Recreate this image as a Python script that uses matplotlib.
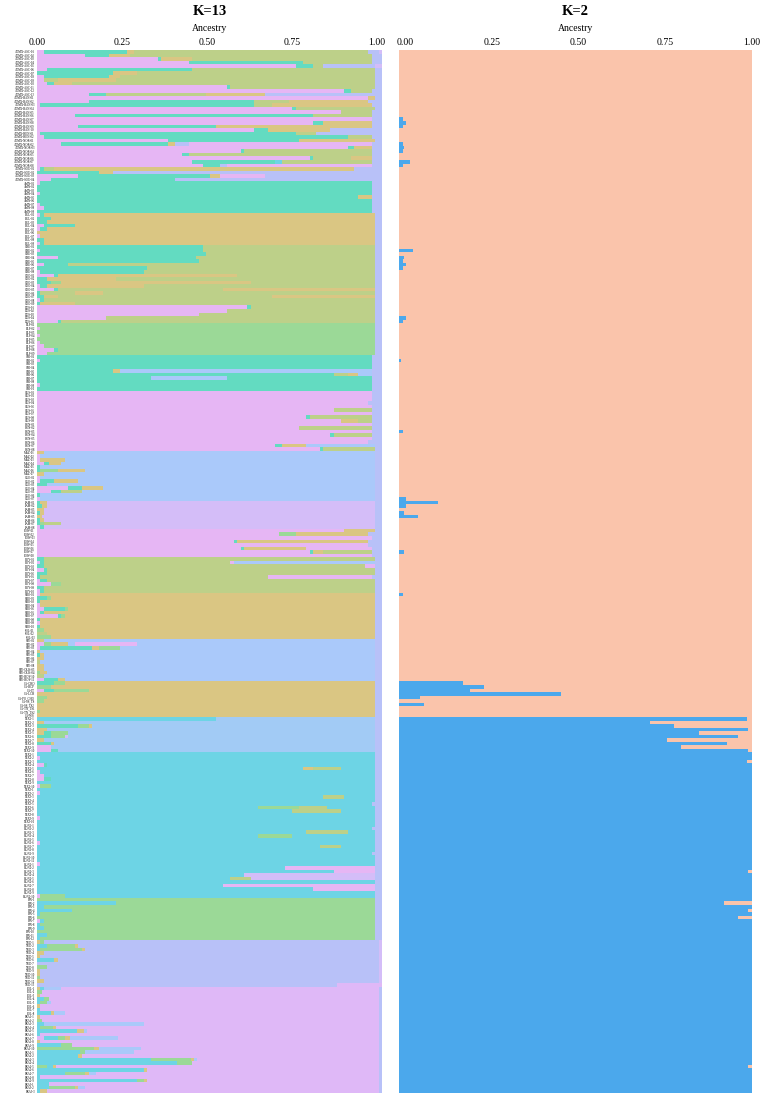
import matplotlib.pyplot as plt
from matplotlib.transforms import ScaledTranslation

# cluster colours (K=13 panel)
COLORS = {
    'p': '#E6B6F4',  # pink
    't': '#63DBC1',  # turquoise
    'o': '#BDD089',  # olive
    'n': '#DAC683',  # tan
    'g': '#9BD997',  # green
    'c': '#6DD4E5',  # cyan
    's': '#AAC9FA',  # sky blue
    'b': '#A2CBF5',  # light blue
    'w': '#B8C1F8',  # periwinkle
    'l': '#D4BDF8',  # lavender
    'v': '#DFB8F7',  # violet
}
K2_BLUE, K2_SALMON = '#4BA8EC', '#FAC4AB'

# sample labels: (prefix, count, zero padding)
GROUPS = [
    ("ADMX-ASC-", 13, 2), ("ADMX-BAN-", 10, 2), ("ADMX-HEN-", 2, 2),
    ("ADMX-NOR-", 8, 2), ("ADMX-SOU-", 4, 2), ("AMN-", 9, 2), ("BUL-", 9, 2),
    ("CHE-", 8, 2), ("COO-", 9, 2), ("DOS-", 5, 2), ("ELF-", 9, 2),
    ("GBI-", 10, 2), ("GUS-", 9, 2), ("HEN-", 8, 2), ("MAZ-", 7, 2),
    ("OUE-", 7, 2), ("PAM-", 8, 2), ("POW-", 8, 2), ("ROY-", 10, 2),
    ("SHO-", 10, 2), ("SOL-", 3, 2), ("SPE-", 8, 2),
]
EXTRA_LABELS = ["SPE-OLK-03", "SPE-OLK-04", "SPE-ROY-10", "SPE-ROY-11",
                "CA-CHO", "CA-RCP", "CA-IT", "CA-LCH", "CA-PO_CHO", "CA-SS_TS",
                "CA-SS_TS2", "CA-TN_TS1", "CA-TN_TS2", "CA-WS"]
GROUPS2 = [("TEX1-", 10, 1), ("TEX2-", 10, 1), ("TEX3-", 10, 1), ("HUN1-", 11, 1),
           ("HUN2-", 10, 1), ("FIN-", 12, 1), ("NED-", 13, 1), ("POL-", 8, 1),
           ("FRA1-", 10, 1), ("FRA2-", 9, 1), ("FRA3-", 3, 1)]

# K=13 ancestry, each sample as cluster+fraction segments, left to right
ADMX = [
    "p.02 t.24 n.02 o.68 w.03 l.01", "p.14 t.07 n.06 o.70 w.03", "p.35 t.01 n.09 o.52 w.03",
    "p.44 t.33 o.20 w.03", "p.75 t.05 o.03 w.15 l.02", "p.03 t.42 o.53 w.02",
    "t.22 n.07 o.69 w.02", "p.02 t.19 n.03 o.74 w.02", "p.02 o.04 n.17 o.75 w.02",
    "p.03 t.02 n.05 o.88 w.02", "p.55 t.01 o.42 w.02", "p.89 t.02 o.06 w.03",
    "p.15 t.05 o.29 n.17 w.34", "p.96 n.02 w.02", "p.15 t.48 o.10 n.23 w.04",
    "p.01 t.62 o.05 n.29 w.03", "p.74 t.01 o.23 w.02", "p.88 o.09 w.03",
    "p.11 t.69 o.17 w.03", "p.97 w.03", "p.80 t.03 n.14 w.03",
    "p.12 t.40 n.45 w.03", "p.63 t.04 n.18 w.15", "p.01 t.74 o.06 w.19",
    "p.02 t.88 o.07 w.03", "p.38 t.38 n.22 w.02", "p.07 t.31 n.02 w.04 p.53 w.03",
    "p.90 t.02 n.05 w.03", "p.59 t.01 o.37 w.03", "p.42 t.02 o.53 w.03",
    "p.79 t.01 o.11 n.06 w.03", "p.45 t.24 c.02 o.26 w.03", "p.48 t.05 w.02 p.42 w.03",
    "p.01 t.01 o.03 n.87 w.08", "t.18 n.04 w.78", "p.12 t.38 n.03 p.13 w.34",
    "p.04 t.36 w.60",
]
AMN = ["p.01 t.96 w.03", "t.97 w.03", "t.97 w.03", "p.01 t.96 w.03", "t.93 n.04 w.03",
       "t.97 w.03", "p.01 t.96 w.03", "p.02 t.95 w.03", "t.97 w.03"]
BUL = ["p.01 t.01 n.96 w.02", "t.04 n.94 w.02", "t.03 n.95 w.02", "p.02 t.09 n.87 w.02",
       "p.01 t.02 n.95 w.02", "n.98 w.02", "p.01 n.97 w.02", "t.02 n.96 w.02",
       "p.01 t.01 n.96 w.02"]
CHE = ["t.48 o.50 w.02", "p.01 t.47 o.50 w.02", "t.49 o.49 w.02", "p.06 t.40 o.52 w.02",
       "t.47 o.51 w.02", "p.02 t.07 o.89 w.02", "t.32 o.66 w.02", "p.01 t.30 o.67 w.02"]
COO = ["p.05 t.01 n.52 o.40 w.02", "t.03 n.20 o.75 w.02", "t.04 g.03 n.55 o.36 w.02",
       "p.01 t.02 n.28 o.67 w.02", "p.05 t.01 o.48 n.44 w.02", "t.01 o.10 n.08 o.79 w.02",
       "t.02 n.04 o.62 n.30 w.02", "p.01 t.01 o.96 w.02", "t.01 n.10 o.87 w.02"]
DOS = ["p.61 t.01 o.36 w.02", "p.55 o.43 w.02", "p.47 o.51 w.02", "p.20 o.78 w.02",
       "p.06 t.01 o.91 w.02"]
ELF = ["g.98 w.02", "p.01 g.97 w.02", "g.98 w.02", "p.01 g.97 w.02", "g.98 w.02",
       "p.01 g.97 w.02", "p.02 g.96 w.02", "p.05 t.01 g.92 w.02", "p.03 g.95 w.02"]
GBI = ["t.97 w.03", "p.01 t.96 w.03", "t.97 w.03", "t.97 w.03", "t.22 n.02 s.73 w.03",
       "t.86 o.04 n.03 s.04 w.03", "t.33 s.22 t.42 w.03", "t.97 w.03", "p.01 t.96 w.03",
       "t.97 w.03"]
GUS = ["p.97 w.03", "p.97 w.03", "p.97 w.03", "p.96 w.04", "p.97 w.03", "p.86 o.11 w.03",
       "p.97 w.03", "p.78 t.01 o.18 w.03", "p.88 n.05 o.04 w.03"]
HEN = ["p.97 w.03", "p.76 o.21 w.03", "p.97 w.03", "p.85 t.01 o.11 w.03", "p.97 w.03",
       "p.96 w.04", "p.69 t.02 n.07 s.20 w.02", "p.82 t.01 o.15 w.02"]
MAZ = ["n.02 s.96 w.02", "p.01 s.97 w.02", "p.01 n.07 s.90 w.02", "p.02 t.015 n.035 s.91 w.02",
       "t.01 s.97 w.02", "t.01 g.05 n.08 s.84 w.02", "n.02 s.96 w.02"]
OUE = ["p.01 s.97 w.02", "p.01 t.04 n.07 s.86 w.02", "t.03 s.95 w.02",
       "p.09 t.04 n.06 s.79 w.02", "p.04 t.03 o.06 s.85 w.02", "t.01 s.97 w.02",
       "p.01 s.97 w.02"]
PAM = ["t.01 n.02 l.95 w.02", "t.015 n.015 l.95 w.02", "n.02 l.96 w.02", "t.01 n.01 l.96 w.02",
       "n.015 l.965 w.02", "t.01 n.01 l.96 w.02", "t.01 g.01 o.05 l.91 w.02",
       "p.01 t.01 l.96 w.02"]
POW = ["p.89 n.09 w.02", "p.70 g.05 n.21 w.04", "p.97 w.03", "p.57 t.01 n.38 w.04",
       "p.96 w.04", "p.59 t.01 n.18 p.19 w.03", "p.79 t.01 n.03 o.14 w.03", "p.97 w.03"]
ROY = ["t.02 o.96 w.02", "p.01 t.01 o.54 p.01 s.41 w.02", "t.02 o.93 p.03 w.02",
       "p.02 t.01 o.95 w.02", "t.03 o.95 w.02", "t.01 o.66 p.30 w.03", "p.01 t.02 o.95 w.02",
       "p.04 g.03 o.91 w.02", "t.02 o.96 w.02", "p.01 t.01 o.96 w.02"]
SHO = ["p.01 n.97 w.02", "t.03 g.01 n.94 w.02", "t.01 n.97 w.02", "p.01 n.97 w.02",
       "p.02 t.06 g.01 n.89 w.02", "p.01 t.01 n.96 w.02", "p.06 t.01 g.01 n.90 w.02",
       "t.01 n.97 w.02", "p.01 n.97 w.02", "t.01 n.97 w.02"]
SOL = ["g.02 n.96 w.02", "o.03 n.95 w.02", "g.04 n.94 w.02"]
SPE = ["n.02 s.96 w.02", "p.02 g.02 n.05 s.02 p.18 s.69 w.02", "p.01 t.15 n.02 g.06 s.74 w.02",
       "n.01 s.97 w.02", "t.01 n.01 s.96 w.02", "n.02 s.96 w.02", "o.01 s.97 w.02",
       "n.02 s.96 w.02"]
SPE_X = ["n.02 s.96 w.02", "g.01 n.02 s.95 w.02", "o.02 s.96 w.02", "p.02 t.04 n.02 s.90 w.02"]
CA = ["t.05 g.03 n.90 w.02", "g.04 n.94 w.02", "p.02 t.03 g.10 n.83 w.02", "n.98 w.02",
      "g.03 n.95 w.02", "g.02 n.96 w.02", "n.98 w.02", "n.98 w.02", "g.01 n.97 w.02",
      "n.98 w.02"]
TEX1 = ["c.52 b.46 w.02", "n.02 b.96 w.02", "t.12 g.03 n.01 b.82 w.02", "n.03 b.95 w.02",
        "n.02 t.02 g.05 b.89 w.02", "t.04 g.04 l.01 b.89 w.02", "n.02 b.96 w.02",
        "t.04 n.01 b.93 w.02", "p.04 b.94 w.02", "p.04 t.02 b.92 w.02"]
TEX2 = ["c.98 w.02", "p.01 c.97 w.02", "c.98 w.02", "p.02 t.01 c.95 w.02",
        "c.77 n.03 o.08 c.10 w.02", "p.01 c.97 w.02", "p.02 c.96 w.02", "p.02 t.02 c.94 w.02",
        "c.98 w.02", "p.01 g.03 c.94 w.02"]
TEX3 = ["c.98 w.02", "p.01 c.97 w.02", "c.83 o.06 c.09 w.02", "c.98 w.02", "c.97 w.03",
        "c.64 g.12 o.08 c.14 w.02", "c.74 o.14 c.10 w.02", "c.98 w.02", "p.01 c.97 w.02",
        "c.98 w.02"]
HUN1 = ["c.98 w.02", "c.97 w.03", "c.78 o.12 c.08 w.02", "c.64 g.10 c.24 w.02", "c.98 w.02",
        "p.01 c.97 w.02", "c.82 o.06 c.10 w.02", "c.98 w.02", "c.97 w.03", "c.98 w.02",
        "c.98 w.02"]
HUN2 = ["p.01 c.97 w.02", "c.72 p.26 w.02", "c.86 p.12 w.02", "c.60 l.38 w.02",
        "c.56 o.06 l.36 w.02", "c.98 w.02", "c.54 p.44 w.02", "c.80 p.18 w.02", "c.98 w.02",
        "p.01 g.07 c.90 w.02"]
FIN = ["g.98 w.02", "c.23 g.75 w.02", "c.02 g.96 w.02", "c.10 g.88 w.02", "c.01 g.97 w.02",
       "g.98 w.02", "p.01 c.01 g.96 w.02", "c.01 g.97 w.02", "c.02 g.96 w.02", "g.98 w.02",
       "c.03 g.95 w.02", "c.01 g.97 w.02"]
NED = ["n.01 g.01 w.97 l.01", "c.03 g.08 n.01 w.87 l.01", "c.01 g.12 n.01 w.85 l.01",
       "n.02 w.97 l.01", "n.01 w.98 l.01", "c.05 n.01 w.93 l.01", "w.99 l.01", "g.03 w.96 l.01",
       "n.01 w.98 l.01", "n.01 w.98 l.01", "g.01 w.98 l.01", "n.02 w.97 l.01", "w.87 v.13"]
POL = ["n.01 c.01 s.05 v.92 w.01", "g.015 v.975 w.01", "n.01 v.98 w.01", "c.02 g.015 v.955 w.01",
       "c.01 g.02 s.01 v.95 w.01", "n.01 v.98 w.01", "c.01 v.98 w.01", "c.04 n.01 s.03 v.91 w.01"]
FRA1 = ["n.01 v.98 w.01", "g.015 v.975 w.01", "c.02 s.29 v.68 w.01", "c.01 g.035 n.01 v.935 w.01",
        "c.115 n.02 s.01 v.845 w.01", "c.01 v.98 w.01", "v.02 c.04 g.02 n.015 s.14 v.755 w.01",
        "n.01 v.98 w.01", "c.07 g.03 v.89 w.01", "g.165 n.015 s.12 v.69 w.01"]
FRA2 = ["c.125 g.015 s.14 v.71 w.01", "c.12 n.01 v.86 w.01", "c.33 g.115 n.01 s.01 v.525 w.01",
        "c.405 g.045 v.54 w.01", "g.03 c.015 n.01 v.935 w.01", "c.31 n.01 v.67 w.01",
        "c.08 g.06 n.01 s.02 v.82 w.01", "c.01 v.98 w.01", "c.29 g.02 n.01 v.67 w.01"]
FRA3 = ["c.035 v.955 w.01", "c.035 g.075 n.01 s.02 v.85 w.01", "c.01 n.02 v.96 w.01"]

# K=2: blue ancestry fraction per sample (rest is salmon)
K2_ADMX = [0, 0, 0, 0, 0, 0, 0, 0, 0, 0, 0, 0, 0, 0, 0, 0, 0, 0, 0, .01,
           .02, .01, 0, 0, 0, 0, .01, .015, .01, 0, 0, .03, .01, 0, 0, 0, 0]
K2_AMN = [0, 0, 0, 0, 0, 0, 0, 0, 0]
K2_BUL = [0, 0, 0, 0, 0, 0, 0, 0, 0]
K2_CHE = [0, .04, 0, .015, .01, .02, .01, 0]
K2_COO = [0, 0, 0, 0, 0, 0, 0, 0, 0]
K2_DOS = [0, 0, 0, .02, .01]
K2_ELF = [0, 0, 0, 0, 0, 0, 0, 0, 0]
K2_GBI = [0, .005, 0, 0, 0, 0, 0, 0, 0, 0]
K2_GUS = [0, 0, 0, 0, 0, 0, 0, 0, 0]
K2_HEN = [0, 0, .01, 0, 0, 0, 0, 0]
K2_MAZ = [0, 0, 0, 0, 0, 0, 0]
K2_OUE = [0, 0, 0, 0, 0, 0, .02]
K2_PAM = [.11, .02, 0, .015, .055, 0, 0, 0]
K2_POW = [0, 0, 0, 0, 0, 0, .015, 0]
K2_ROY = [0, 0, 0, 0, 0, 0, 0, 0, 0, 0]
K2_SHO = [.01, 0, 0, 0, 0, 0, 0, 0, 0, 0]
K2_SOL = [0, 0, 0]
K2_SPE = [0, 0, 0, 0, 0, 0, 0, 0]
K2_SPE_X = [0, 0, 0, 0]
K2_CA = [.18, .24, .20, .46, .06, 0, .07, 0, 0, 0]
K2_TEX1 = [.985, .71, .78, .99, .85, .96, .76, .93, .80, .99]
K2_TEX2 = [1, 1, .985, 1, 1, 1, 1, 1, 1, 1]
K2_TEX3 = [1, 1, 1, 1, 1, 1, 1, 1, 1, 1]
K2_HUN1 = [1, 1, 1, 1, 1, 1, 1, 1, 1, 1, 1]
K2_HUN2 = [1, 1, .99, 1, 1, 1, 1, 1, 1, 1]
K2_FIN = [1, .92, 1, .99, 1, .96, 1, 1, 1, 1, 1, 1]
K2_NED = [1, 1, 1, 1, 1, 1, 1, 1, 1, 1, 1, 1, 1]
K2_POL = [1, 1, 1, 1, 1, 1, 1, 1]
K2_FRA1 = [1, 1, 1, 1, 1, 1, 1, 1, 1, 1]
K2_FRA2 = [1, 1, 1, 1, .99, 1, 1, 1, 1]
K2_FRA3 = [1, 1, 1]

TICKS = [0, 0.25, 0.5, 0.75, 1.0]
TICK_LABELS = ['0.00', '0.25', '0.50', '0.75', '1.00']

Q13 = (ADMX + AMN + BUL + CHE + COO + DOS + ELF + GBI + GUS + HEN + MAZ + OUE + PAM + POW
       + ROY + SHO + SOL + SPE + SPE_X + CA + TEX1 + TEX2 + TEX3 + HUN1 + HUN2 + FIN + NED
       + POL + FRA1 + FRA2 + FRA3)
Q2 = (K2_ADMX + K2_AMN + K2_BUL + K2_CHE + K2_COO + K2_DOS + K2_ELF + K2_GBI + K2_GUS
      + K2_HEN + K2_MAZ + K2_OUE + K2_PAM + K2_POW + K2_ROY + K2_SHO + K2_SOL + K2_SPE
      + K2_SPE_X + K2_CA + K2_TEX1 + K2_TEX2 + K2_TEX3 + K2_HUN1 + K2_HUN2 + K2_FIN
      + K2_NED + K2_POL + K2_FRA1 + K2_FRA2 + K2_FRA3)

labels = [f"{p}{i:0{w}d}" for p, n, w in GROUPS for i in range(1, n + 1)]
labels += EXTRA_LABELS
labels += [f"{p}{i:0{w}d}" for p, n, w in GROUPS2 for i in range(1, n + 1)]
N = len(Q13)

fig = plt.figure(figsize=(7.65, 10.98), dpi=100)
ax1 = fig.add_axes([37 / 765, 1 - 1093 / 1098, 345 / 765, 1043 / 1098])
ax2 = fig.add_axes([399 / 765, 1 - 1093 / 1098, 353 / 765, 1043 / 1098])

serif = ['Liberation Serif', 'DejaVu Serif']

# K=13 stacked bars
for i, row in enumerate(Q13):
    segs = [(tok[0], float(tok[1:])) for tok in row.split()]
    total = sum(v for _, v in segs)
    left = 0.0
    for key, val in segs:
        ax1.barh(i, val / total, left=left, height=1.0, color=COLORS[key], linewidth=0)
        left += val / total

# K=2 stacked bars
ys = list(range(N))
ax2.barh(ys, Q2, height=1.0, color=K2_BLUE, linewidth=0)
ax2.barh(ys, [1 - q for q in Q2], left=Q2, height=1.0, color=K2_SALMON, linewidth=0)

# tick labels in the original sit a little inside the bar extent
shifts = {ax1: [0, -1, -2.5, -4, -5], ax2: [6, 4.5, 3, 1.5, 0]}

for ax, title in ((ax1, 'K=13'), (ax2, 'K=2')):
    ax.set_xlim(0, 1)
    ax.set_ylim(N - 0.5, -0.5)
    ax.xaxis.tick_top()
    ax.xaxis.set_label_position('top')
    ax.set_xticks(TICKS)
    ax.set_xticklabels(TICK_LABELS, family=serif, fontsize=7)
    ax.tick_params(axis='x', length=0, pad=2.5)
    for lab, dx in zip(ax.get_xticklabels(), shifts[ax]):
        lab.set_transform(lab.get_transform() + ScaledTranslation(dx / 100, 0, fig.dpi_scale_trans))
    ax.set_xlabel('Ancestry', family=serif, fontsize=7, labelpad=5)
    ax.set_title(title, family=serif, fontsize=10.5, fontweight='bold', pad=6)
    for s in ax.spines.values():
        s.set_visible(False)

ax1.set_yticks(ys)
ax1.set_yticklabels(labels, family=serif, fontsize=2.2)
ax1.tick_params(axis='y', length=0, pad=1.5)
ax2.set_yticks([])

fig.savefig('out.png', dpi=100)
